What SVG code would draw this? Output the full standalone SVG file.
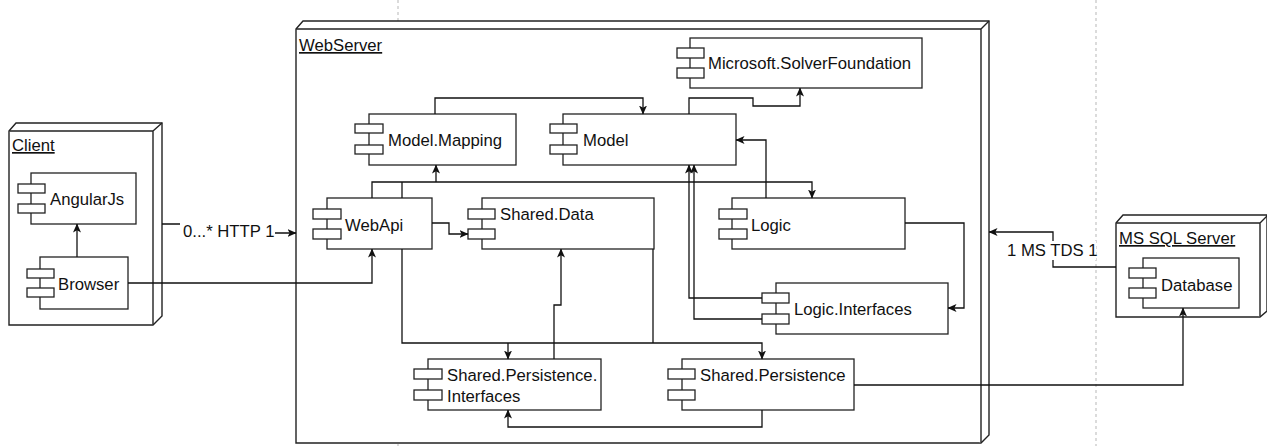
<svg xmlns="http://www.w3.org/2000/svg" width="1267" height="446" viewBox="0 0 1267 446">
<defs>
<style>
.node{fill:#fff;stroke:#222;stroke-width:1.4}
.comp{fill:#fff;stroke:#222;stroke-width:1.3}
.port{fill:#fff;stroke:#222;stroke-width:1.3}
.t{font-family:"Liberation Sans",Arial,sans-serif;font-size:16.7px;fill:#111}
.u{text-decoration:underline}
.c{fill:none;stroke:#111;stroke-width:1.3}
.dash{fill:none;stroke:#c8c8c8;stroke-width:1.3;stroke-dasharray:3 3}
.lbl{fill:#fff}
</style>
<marker id="a" viewBox="0 0 9 8" refX="8.5" refY="4" markerWidth="9" markerHeight="8" markerUnits="userSpaceOnUse" orient="auto">
<path d="M0,0 L9,4 L0,8 L2.2,4 z" fill="#111"/>
</marker>
</defs>
<rect width="1267" height="446" fill="#fff"/>
<line class="dash" x1="398" y1="0" x2="398" y2="446"/>
<line class="dash" x1="1096" y1="0" x2="1096" y2="446"/>

<g id="webserver">
<path class="node" d="M296,29 L303,21 L989,21 L989,435 L981,443 L296,443 Z"/>
<path class="node" d="M296,29 L981,29 L981,443 M981,29 L989,21"/>
<text class="t u" x="299" y="51">WebServer</text>
</g>

<g id="client">
<path class="node" d="M9,131 L16,123 L162,123 L162,316 L153,325 L9,325 Z"/>
<path class="node" d="M9,131 L153,131 L153,325 M153,131 L162,123"/>
<text class="t u" x="12" y="151">Client</text>
</g>

<g id="mssql">
<path class="node" d="M1116,223 L1123,215 L1267,215 L1267,311 L1260,317 L1116,317 Z"/>
<path class="node" d="M1116,223 L1260,223 L1260,317 M1260,223 L1267,216"/>
<text class="t u" x="1119" y="244">MS SQL Server</text>
</g>

<g id="angularjs">
<rect class="comp" x="31" y="173" width="105" height="51"/>
<rect class="port" x="18" y="184" width="27" height="9"/>
<rect class="port" x="18" y="204" width="27" height="9"/>
<text class="t" x="50" y="205">AngularJs</text>
</g>

<g id="browser">
<rect class="comp" x="40" y="257" width="88" height="52"/>
<rect class="port" x="27" y="269" width="27" height="9"/>
<rect class="port" x="27" y="288" width="27" height="9"/>
<text class="t" x="58" y="290">Browser</text>
</g>

<g id="solver">
<rect class="comp" x="690" y="38" width="232" height="50"/>
<rect class="port" x="677" y="48" width="27" height="10"/>
<rect class="port" x="677" y="68" width="27" height="10"/>
<text class="t" x="708" y="69">Microsoft.SolverFoundation</text>
</g>

<g id="modelmapping">
<rect class="comp" x="369" y="114" width="147" height="51"/>
<rect class="port" x="355" y="124" width="28" height="9"/>
<rect class="port" x="355" y="145" width="28" height="9"/>
<text class="t" x="388" y="146">Model.Mapping</text>
</g>

<g id="model">
<rect class="comp" x="563" y="114" width="173" height="51"/>
<rect class="port" x="550" y="124" width="27" height="9"/>
<rect class="port" x="550" y="145" width="27" height="9"/>
<text class="t" x="583" y="146">Model</text>
</g>

<g id="webapi">
<rect class="comp" x="327" y="198" width="105" height="51"/>
<rect class="port" x="313" y="209" width="28" height="10"/>
<rect class="port" x="313" y="229" width="28" height="10"/>
<text class="t" x="345" y="231">WebApi</text>
</g>

<g id="shareddata">
<rect class="comp" x="482" y="198" width="172" height="51"/>
<rect class="port" x="468" y="209" width="27" height="10"/>
<rect class="port" x="468" y="229" width="27" height="10"/>
<text class="t" x="500" y="220">Shared.Data</text>
</g>

<g id="logic">
<rect class="comp" x="732" y="198" width="173" height="51"/>
<rect class="port" x="719" y="209" width="28" height="10"/>
<rect class="port" x="719" y="229" width="28" height="10"/>
<text class="t" x="751" y="231">Logic</text>
</g>

<g id="logicinterfaces">
<rect class="comp" x="776" y="283" width="172" height="51"/>
<rect class="port" x="762" y="293" width="27" height="10"/>
<rect class="port" x="762" y="314" width="27" height="10"/>
<text class="t" x="794" y="315">Logic.Interfaces</text>
</g>

<g id="spinterfaces">
<rect class="comp" x="428" y="359" width="173" height="51"/>
<rect class="port" x="414" y="369" width="28" height="10"/>
<rect class="port" x="414" y="390" width="28" height="10"/>
<text class="t" x="447" y="381">Shared.Persistence.</text>
<text class="t" x="447" y="402">Interfaces</text>
</g>

<g id="sharedpersistence">
<rect class="comp" x="682" y="359" width="172" height="51"/>
<rect class="port" x="668" y="369" width="27" height="10"/>
<rect class="port" x="668" y="390" width="27" height="10"/>
<text class="t" x="700" y="381">Shared.Persistence</text>
</g>

<g id="database">
<rect class="comp" x="1143" y="258" width="96" height="50"/>
<rect class="port" x="1129" y="268" width="27" height="10"/>
<rect class="port" x="1129" y="288" width="27" height="10"/>
<text class="t" x="1161" y="291">Database</text>
</g>

<g id="connectors">
<path class="c" d="M77,257 V224" marker-end="url(#a)"/>
<path class="c" d="M162,224 H228 V233 H296" marker-end="url(#a)"/>
<rect class="lbl" x="180" y="221" width="95" height="19"/>
<text class="t" x="183" y="237">0...* HTTP 1</text>
<path class="c" d="M128,283 H372 V249" marker-end="url(#a)"/>
<path class="c" d="M432,223 H449 V234 H468" marker-end="url(#a)"/>
<path class="c" d="M435,114 V98 H643 V114" marker-end="url(#a)"/>
<path class="c" d="M689,114 V98 H753 V106 H800 V88" marker-end="url(#a)"/>
<path class="c" d="M766,198 V140 H736" marker-end="url(#a)"/>
<path class="c" d="M372,198 V182 H812 V198" marker-end="url(#a)"/>
<path class="c" d="M402,198 V182"/>
<path class="c" d="M436,182 V165" marker-end="url(#a)"/>
<path class="c" d="M905,223 H964 V308 H948" marker-end="url(#a)"/>
<path class="c" d="M762,298 H689 V165" marker-end="url(#a)"/>
<path class="c" d="M762,319 H694 V165" marker-end="url(#a)"/>
<path class="c" d="M402,249 V343 H762 V359" marker-end="url(#a)"/>
<path class="c" d="M508,343 V359" marker-end="url(#a)"/>
<path class="c" d="M653,249 V343"/>
<path class="c" d="M554,359 V305 H561 V249" marker-end="url(#a)"/>
<path class="c" d="M762,410 V427 H508 V410" marker-end="url(#a)"/>
<path class="c" d="M854,385 H1183 V308" marker-end="url(#a)"/>
<path class="c" d="M1116,267 H1053 V232 H989" marker-end="url(#a)"/>
<rect class="lbl" x="1005" y="241" width="91" height="19"/>
<text class="t" x="1007" y="256">1 MS TDS 1</text>
</g>
</svg>
